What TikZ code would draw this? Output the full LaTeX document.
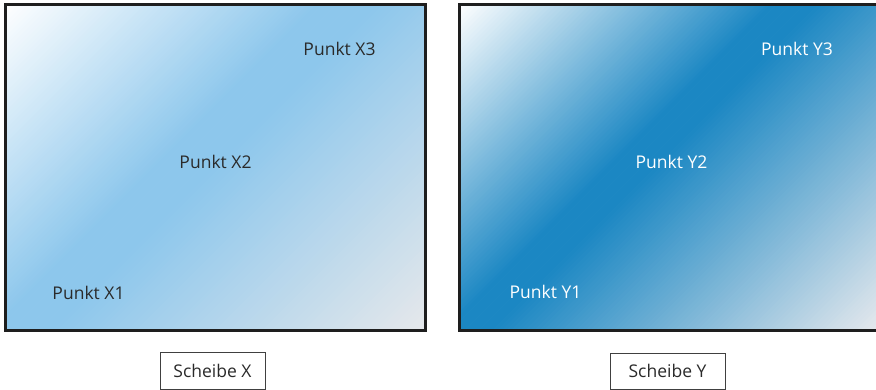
\documentclass[tikz,border=0pt]{standalone}
\usepackage{fontspec}
\setmainfont{Open Sans}
\definecolor{lpeak}{HTML}{8DC7EC}
\definecolor{lend}{HTML}{E6E8EB}
\definecolor{rpeak}{HTML}{1B87C3}
\definecolor{rend}{HTML}{E6E9ED}
\definecolor{txtdark}{HTML}{2A2A2A}
\definecolor{frame}{HTML}{1E1E1E}
% #1,#2 top-left; #3 W; #4 H; #5 start colour; #6 peak colour; #7 end colour; #8 peak start; #9 peak end
\newcommand\gradpanel[9]{%
  \begin{scope}
    \clip (#1,#2) rectangle ++(#3,#4);
    \pgfmathsetmacro\gL{#3+#4}
    \foreach \i in {0,...,159}{
      \pgfmathsetmacro\gsm{(\i+0.5)/160}
      \pgfmathsetmacro\gxa{#1+\i/160*\gL}
      \pgfmathsetmacro\gxb{#1+(\i+1)/160*\gL+0.8}
      \ifdim\gsm pt<#8pt
        \pgfmathsetmacro\gp{\gsm/#8*100}
        \colorlet{gtmp}{#6!\gp!#5}
      \else\ifdim\gsm pt>#9pt
        \pgfmathsetmacro\gp{(\gsm-#9)/(1-#9)*100}
        \colorlet{gtmp}{#7!\gp!#6}
      \else
        \colorlet{gtmp}{#6}
      \fi\fi
      \fill[gtmp] ({\gxa-600},{#2+600}) -- ({\gxa+600},{#2-600}) -- ({\gxb+600},{#2-600}) -- ({\gxb-600},{#2+600}) -- cycle;
    }
  \end{scope}}
\tikzset{
  panel/.style={draw=frame, line width=3pt},
  ptlabel/.style={font=\fontsize{17.5}{20}\selectfont, inner sep=0pt},
  caption/.style={draw=black!75, line width=0.8pt, font=\fontsize{17.5}{20}\selectfont, text=txtdark, inner sep=0pt},
}
\begin{document}
\begin{tikzpicture}[x=1pt,y=-1pt]
\useasboundingbox (0,0) rectangle (876,390);
\clip (0,0) rectangle (876,390);
\gradpanel{5}{5}{420}{325}{white}{lpeak}{lend}{0.42}{0.50}
\gradpanel{459}{5}{420}{325}{white}{rpeak}{rend}{0.42}{0.48}
\path[panel] (5,5) rectangle (425,330);
\path[panel] (459,5) rectangle (879,330);
\node[ptlabel, text=txtdark] (x1) at (88.5,293) {Punkt X1};
\node[ptlabel, text=txtdark] (x2) at (215.5,162) {Punkt X2};
\node[ptlabel, text=txtdark] (x3) at (339.5,49) {Punkt X3};
\node[ptlabel, text=white] (y1) at (545.5,292) {Punkt Y1};
\node[ptlabel, text=white] (y2) at (671.5,162) {Punkt Y2};
\node[ptlabel, text=white] (y3) at (797,49) {Punkt Y3};
\node[caption, minimum width=105pt, minimum height=37pt] (sx) at (212.5,370.5) {Scheibe X};
\node[caption, minimum width=115pt, minimum height=36pt] (sy) at (667.5,371) {Scheibe Y};
\end{tikzpicture}
\end{document}
